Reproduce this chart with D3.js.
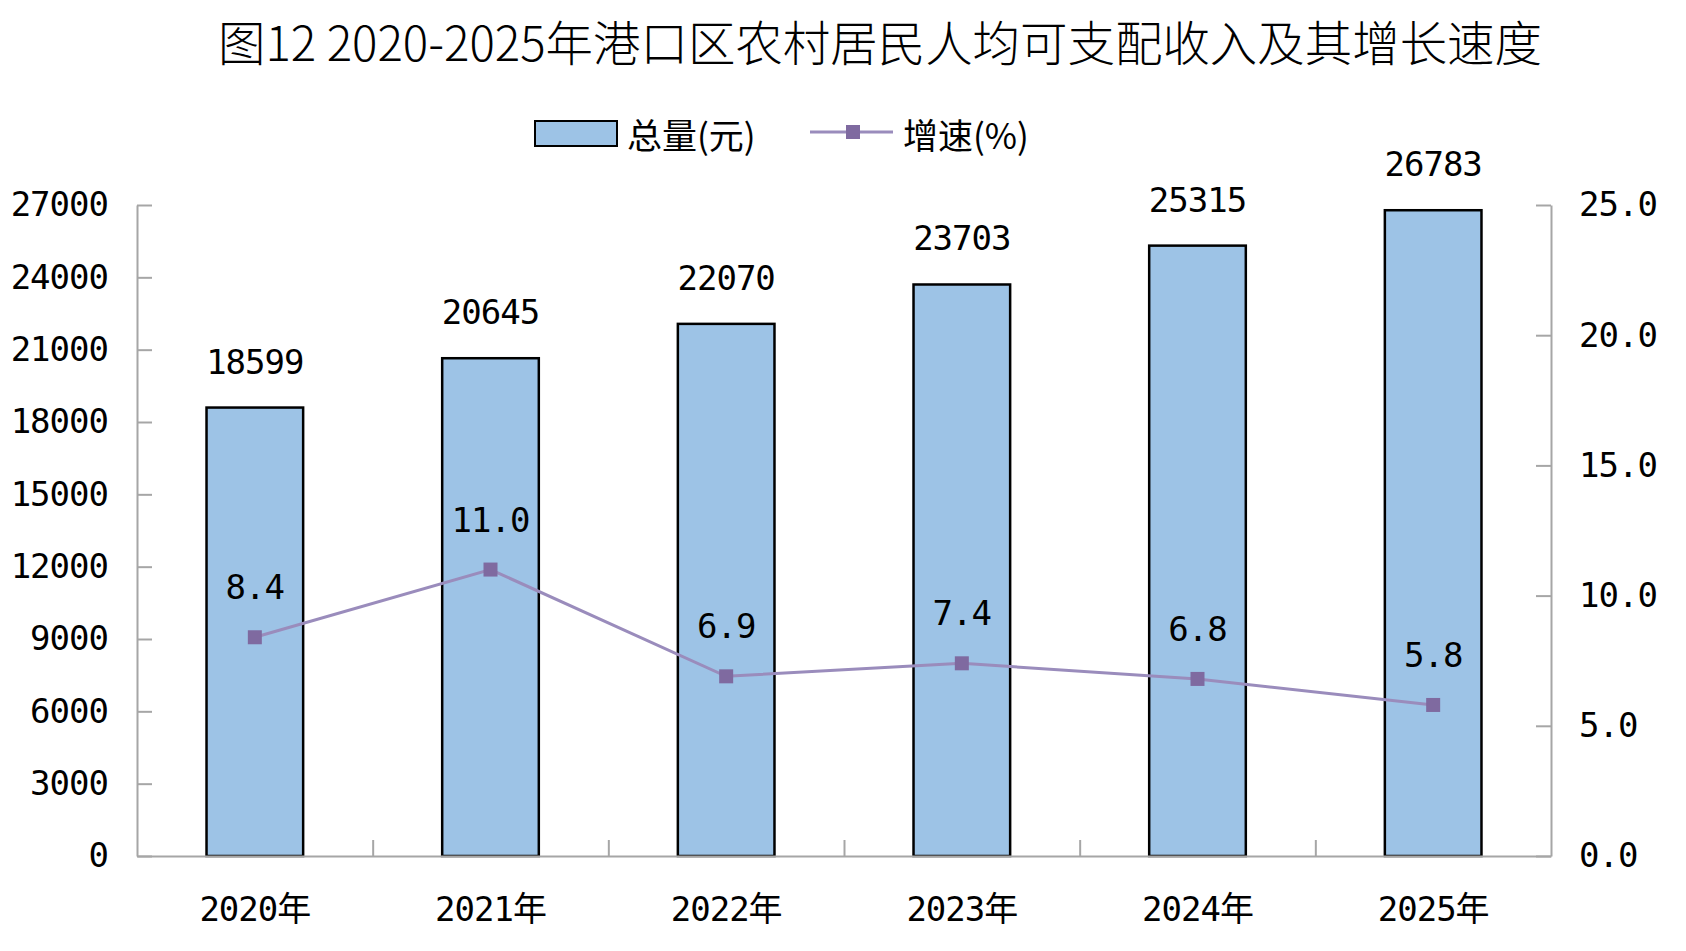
<!DOCTYPE html>
<html lang="zh">
<head>
  <meta charset="UTF-8">
  <title>港口区农村居民人均可支配收入</title>
  <style>
    body { margin: 0; background: #fff; }
  </style>
</head>
<body>
  <svg id="svg" width="1686" height="951"></svg>

  <script src="https://d3js.org/d3.v7.min.js"></script>
  <script>
    // data
    const years = ['2020年', '2021年', '2022年', '2023年', '2024年', '2025年']
    const totals = [18599, 20645, 22070, 23703, 25315, 26783]
    const growth = [8.4, 11.0, 6.9, 7.4, 6.8, 5.8]
    const leftTicks = [0, 3000, 6000, 9000, 12000, 15000, 18000, 21000, 24000, 27000]
    const rightTicks = [0, 5, 10, 15, 20, 25]
    const titleText = '图12 2020-2025年港口区农村居民人均可支配收入及其增长速度'
    const legendBar = '总量(元)'
    const legendLine = '增速(%)'

    const numFont = '"DejaVu Sans Mono", "Noto Sans CJK SC", monospace'
    const cjkFont = '"Noto Sans CJK SC", sans-serif'
    const axisColor = '#a6a6a6'
    const barFill = '#9dc3e6'
    const lineColor = '#9a8cbc'
    const markerColor = '#7f6aa0'

    const plotL = 137, plotR = 1551, plotT = 205, plotB = 856

    const svg = d3.select('#svg')

    const data = years.map((y, i) => ({ year: y, total: totals[i], rate: growth[i] }))

    const x = d3.scaleBand()
      .domain(years)
      .range([plotL, plotR])
      .padding(0)

    const yLeft = d3.scaleLinear()
      .domain([0, 27000])
      .range([plotB, plotT])

    const yRight = d3.scaleLinear()
      .domain([0, 25])
      .range([plotB, plotT])

    // band boundaries for the category ticks
    const xEdge = d3.scaleLinear()
      .domain([0, years.length])
      .range([plotL, plotR])

    // title
    svg.append('text')
      .text(titleText)
      .attr('x', 218)
      .attr('y', 61)
      .attr('textLength', 1324)
      .attr('lengthAdjust', 'spacingAndGlyphs')
      .style('font-family', cjkFont)
      .style('font-size', '48px')
      .style('font-weight', 300)
      .style('fill', '#000')

    // legend
    const legend = svg.append('g')
    legend.append('rect')
      .attr('x', 535).attr('y', 121)
      .attr('width', 82).attr('height', 25)
      .attr('fill', barFill)
      .attr('stroke', '#000')
      .attr('stroke-width', 2)
    legend.append('text')
      .text(legendBar)
      .attr('x', 627).attr('y', 133)
      .attr('dominant-baseline', 'central')
      .style('font-family', cjkFont)
      .style('font-size', '35px')
    legend.append('line')
      .attr('x1', 810).attr('x2', 893)
      .attr('y1', 132).attr('y2', 132)
      .attr('stroke', lineColor)
      .attr('stroke-width', 3)
    legend.append('rect')
      .attr('x', 846).attr('y', 125)
      .attr('width', 14).attr('height', 14)
      .attr('fill', markerColor)
    legend.append('text')
      .text(legendLine)
      .attr('x', 903).attr('y', 133)
      .attr('dominant-baseline', 'central')
      .style('font-family', cjkFont)
      .style('font-size', '35px')

    // bars
    const barW = x.bandwidth() * 0.41
    svg.append('g')
      .selectAll('rect')
      .data(data)
      .enter()
      .append('rect')
      .attr('x', d => x(d.year) + (x.bandwidth() - barW) / 2)
      .attr('y', d => yLeft(d.total))
      .attr('width', barW)
      .attr('height', d => plotB - yLeft(d.total))
      .attr('fill', barFill)
      .attr('stroke', '#000')
      .attr('stroke-width', 2.5)

    // bar value labels
    svg.append('g')
      .selectAll('text')
      .data(data)
      .enter()
      .append('text')
      .text(d => d.total)
      .attr('x', d => x(d.year) + x.bandwidth() / 2)
      .attr('y', d => yLeft(d.total) - 34)
      .attr('text-anchor', 'middle')
      .style('font-family', numFont)
      .style('font-size', '34px')
      .style('letter-spacing', '-1px')

    // axes
    const axisL = svg.append('g')
      .attr('transform', `translate(${plotL},0)`)
      .call(d3.axisLeft(yLeft).tickValues(leftTicks).tickSize(-15).tickSizeOuter(0).tickPadding(29)
        .tickFormat(d3.format('d')))
    const axisR = svg.append('g')
      .attr('transform', `translate(${plotR},0)`)
      .call(d3.axisRight(yRight).tickValues(rightTicks).tickSize(-15).tickSizeOuter(0).tickPadding(28)
        .tickFormat(d3.format('.1f')))
    const axisB = svg.append('g')
      .attr('transform', `translate(0,${plotB})`)
      .call(d3.axisBottom(xEdge).tickValues(d3.range(1, years.length)).tickSize(-16).tickSizeOuter(0)
        .tickFormat(''))

    ;[axisL, axisR, axisB].forEach(a => {
      a.selectAll('path, line').attr('stroke', axisColor).attr('stroke-width', 2)
      a.selectAll('text')
        .style('font-family', numFont)
        .style('font-size', '34px')
        .style('letter-spacing', '-1px')
        .attr('fill', '#000')
    })

    // category labels
    svg.append('g')
      .selectAll('text')
      .data(years)
      .enter()
      .append('text')
      .text(d => d)
      .attr('x', d => x(d) + x.bandwidth() / 2)
      .attr('y', 921)
      .attr('text-anchor', 'middle')
      .style('font-family', numFont)
      .style('font-size', '34px')
      .style('letter-spacing', '-1px')

    // growth line
    const cx = d => x(d.year) + x.bandwidth() / 2
    const line = d3.line()
      .x(cx)
      .y(d => yRight(d.rate))

    svg.append('path')
      .datum(data)
      .attr('d', line)
      .attr('fill', 'none')
      .attr('stroke', lineColor)
      .attr('stroke-width', 3)

    svg.append('g')
      .selectAll('rect')
      .data(data)
      .enter()
      .append('rect')
      .attr('x', d => cx(d) - 7)
      .attr('y', d => yRight(d.rate) - 7)
      .attr('width', 14)
      .attr('height', 14)
      .attr('fill', markerColor)

    svg.append('g')
      .selectAll('text')
      .data(data)
      .enter()
      .append('text')
      .text(d => d.rate.toFixed(1))
      .attr('x', cx)
      .attr('y', d => yRight(d.rate) - 38)
      .attr('text-anchor', 'middle')
      .style('font-family', numFont)
      .style('font-size', '34px')
      .style('letter-spacing', '-1px')
  </script>
</body>
</html>
